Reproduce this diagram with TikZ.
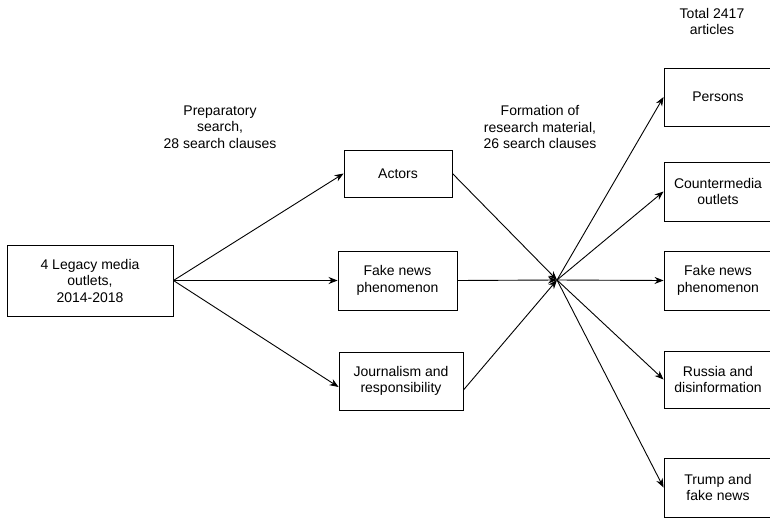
\documentclass[tikz,border=0pt]{standalone}
\usepackage{fontspec}
\setmainfont{Liberation Sans}
\usepackage{xcolor}
\usepackage{tikz}
\usetikzlibrary{arrows.meta}

\begin{document}
\begin{tikzpicture}[x=1pt,y=1pt,yscale=-1,xscale=1,
  box/.style={draw, line width=0.9pt, inner sep=0pt, align=center, font=\fontsize{14}{16.5}\selectfont},
  lbl/.style={align=center, inner sep=0pt, font=\fontsize{14}{16.5}\selectfont},
  link/.style={line width=0.9pt, -{Stealth[length=9pt,width=7pt]}}]
\useasboundingbox (0,0) rectangle (770,519);

% Left box
\node [box, minimum width=166, minimum height=71] (legacy) at (90,280.5) {4 Legacy media\\outlets,\\2014-2018};

% Middle boxes
\node [box, minimum width=108, minimum height=47] (actors) at (398,173.5) {Actors};
\node [box, minimum width=119, minimum height=59] (fakemid) at (397.5,280.5) {Fake news\\phenomenon};
\node [box, minimum width=124, minimum height=58] (journ) at (401,381) {Journalism and\\responsibility};

% Right boxes
\node [box, minimum width=108, minimum height=58] (persons) at (718,97) {Persons};
\node [box, minimum width=108, minimum height=59] (counter) at (718,191.5) {Countermedia\\outlets};
\node [box, minimum width=108, minimum height=59] (fakeright) at (718,280.5) {Fake news\\phenomenon};
\node [box, minimum width=108, minimum height=57] (russia) at (718,379.5) {Russia and\\disinformation};
\node [box, minimum width=108, minimum height=59] (trump) at (718,487.5) {Trump and\\fake news};

% Hub where the lines meet
\coordinate (hub) at (557,280);

% Text Nodes
\node [lbl] (prep) at (220,127) {Preparatory\\search,\\28 search clauses};
\node [lbl] (form) at (540,127) {Formation of\\research material,\\26 search clauses};
\node [lbl] (total) at (712,21.5) {Total 2417\\articles};

% Arrows
\draw [link] (legacy.east) -- (actors.west);
\draw [link] (legacy.east) -- (fakemid.west);
\draw [link] (legacy.east) -- ([yshift=6]journ.west);
\draw [link] (actors.east) -- (hub);
\draw [link] (fakemid.east) -- (hub);
\draw [link] ([yshift=9]journ.east) -- (hub);
\draw [link] (hub) -- (persons.west);
\draw [link] (hub) -- (counter.west);
\draw [link] (hub) -- (fakeright.west);
\draw [link] (hub) -- (russia.west);
\draw [link] (hub) -- (trump.west);

\end{tikzpicture}
\end{document}
